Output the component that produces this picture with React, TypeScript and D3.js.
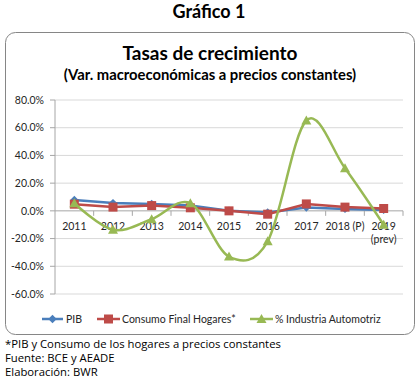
import React from "react";
import * as d3 from "d3";

const categories = ["2011", "2012", "2013", "2014", "2015", "2016", "2017", "2018 (P)", "2019\n(prev)"];
const pib = [7.9, 5.6, 4.9, 3.8, 0.1, -1.2, 2.4, 1.4, 0.7];
const consumo = [4.8, 2.7, 3.8, 2.2, 0.0, -2.4, 5.0, 2.7, 1.7];
const industria = [5.5, -13.7, -6.0, 5.5, -33.0, -22.0, 65.2, 30.8, -10.0];
const yTicks = [80, 60, 40, 20, 0, -20, -40, -60];
const seriesNames = ["PIB", "Consumo Final Hogares*", "% Industria Automotriz"];
const footnotes = [
  "*PIB y Consumo de los hogares a precios constantes",
  "Fuente: BCE y AEADE",
  "Elaboración: BWR",
];

const W = 418;
const H = 379;
const plot = { left: 55, right: 403, top: 100, bottom: 294 };
const BLUE = "#4A7EBB";
const RED = "#BE4B48";
const GREEN = "#98B954";
const FONT = "Lato, 'Open Sans', sans-serif";

export default function App() {
  const x = d3.scaleBand<string>().domain(categories).range([plot.left, plot.right]);
  const y = d3.scaleLinear().domain([-60, 80]).range([plot.bottom, plot.top]);
  const cx = (i: number) => (x(categories[i]) as number) + x.bandwidth() / 2;

  const straight = d3.line<number>().x((_, i) => cx(i)).y((d) => y(d));
  const smooth = d3.line<number>().x((_, i) => cx(i)).y((d) => y(d)).curve(d3.curveCardinal.tension(0));

  const diamond = (px: number, py: number, s = 4.2) =>
    `M${px},${py - s}L${px + s},${py}L${px},${py + s}L${px - s},${py}Z`;
  const tri = (px: number, py: number, s = 5) =>
    `M${px},${py - s}L${px + s},${py + s * 0.8}L${px - s},${py + s * 0.8}Z`;

  const legendY = 319;
  const legendItems = [
    { x0: 42, x1: 63, tx: 66, color: BLUE, kind: "d" },
    { x0: 97, x1: 120, tx: 122, color: RED, kind: "s" },
    { x0: 250, x1: 273, tx: 275, color: GREEN, kind: "t" },
  ];

  const marker = (kind: string, px: number, py: number, color: string, key: string) => {
    if (kind === "d") return <path key={key} d={diamond(px, py)} fill={color} />;
    if (kind === "s") return <rect key={key} x={px - 4.5} y={py - 4.5} width={9} height={9} fill={color} />;
    return <path key={key} d={tri(px, py)} fill={color} />;
  };

  return (
    <svg width={W} height={H} style={{ position: "absolute", left: 0, top: 0, background: "#fff" }}>
      <text x={209} y={18} textAnchor="middle" fontFamily={FONT} fontWeight="bold" fontSize={18} fill="#000">
        Gráfico 1
      </text>
      <rect x={5.5} y={32.5} width={409} height={302} rx={10} ry={10} fill="#fff" stroke="#868686" strokeWidth={1} />
      <text x={210} y={60} textAnchor="middle" fontFamily={FONT} fontWeight="bold" fontSize={19} fill="#000">
        Tasas de crecimiento
      </text>
      <text x={210} y={80} textAnchor="middle" fontFamily={FONT} fontWeight="bold" fontSize={14.8} fill="#000">
        (Var. macroeconómicas a precios constantes)
      </text>

      {yTicks.map((t) => (
        <g key={t}>
          {t !== 0 && (
            <line x1={plot.left} x2={plot.right} y1={y(t)} y2={y(t)} stroke="#D9D9D9" strokeWidth={1} />
          )}
          <line x1={plot.left - 5} x2={plot.left} y1={y(t)} y2={y(t)} stroke="#A6A6A6" />
          <text x={44} y={y(t)} dy="0.35em" textAnchor="end" fontFamily={FONT} fontSize={10.5} fill="#262626">
            {t.toFixed(1) + "%"}
          </text>
        </g>
      ))}
      <line x1={plot.left} x2={plot.left} y1={plot.top} y2={plot.bottom} stroke="#A6A6A6" />
      <line x1={plot.left} x2={plot.right} y1={y(0)} y2={y(0)} stroke="#A6A6A6" />
      {categories.map((c, i) => (
        <line
          key={"tk" + i}
          x1={(x(c) as number) + x.bandwidth()}
          x2={(x(c) as number) + x.bandwidth()}
          y1={y(0)}
          y2={y(0) + 5}
          stroke="#A6A6A6"
        />
      ))}
      {categories.map((c, i) =>
        c.split("\n").map((part, j) => (
          <text
            key={"cl" + i + j}
            x={cx(i)}
            y={y(0) + 19.5 + j * 13}
            textAnchor="middle"
            fontFamily={FONT}
            fontSize={10.5}
            fill="#262626"
          >
            {part}
          </text>
        ))
      )}

      <path d={straight(pib) || ""} fill="none" stroke={BLUE} strokeWidth={2.5} />
      {pib.map((v, i) => marker("d", cx(i), y(v), BLUE, "pm" + i))}
      <path d={straight(consumo) || ""} fill="none" stroke={RED} strokeWidth={2.5} />
      {consumo.map((v, i) => marker("s", cx(i), y(v), RED, "cm" + i))}
      <path d={smooth(industria) || ""} fill="none" stroke={GREEN} strokeWidth={2.5} />
      {industria.map((v, i) => marker("t", cx(i), y(v), GREEN, "im" + i))}

      {legendItems.map((it, i) => (
        <g key={"lg" + i}>
          <line x1={it.x0} x2={it.x1} y1={legendY} y2={legendY} stroke={it.color} strokeWidth={2.5} />
          {marker(it.kind, (it.x0 + it.x1) / 2, legendY, it.color, "lm" + i)}
          <text x={it.tx} y={legendY} dy="0.35em" fontFamily={FONT} fontSize={10.5} fill="#262626">
            {seriesNames[i]}
          </text>
        </g>
      ))}

      {footnotes.map((f, i) => (
        <text key={"fn" + i} x={5} y={348 + i * 14} fontFamily="'Open Sans', sans-serif" fontSize={11.3} fill="#000">
          {f}
        </text>
      ))}
    </svg>
  );
}
